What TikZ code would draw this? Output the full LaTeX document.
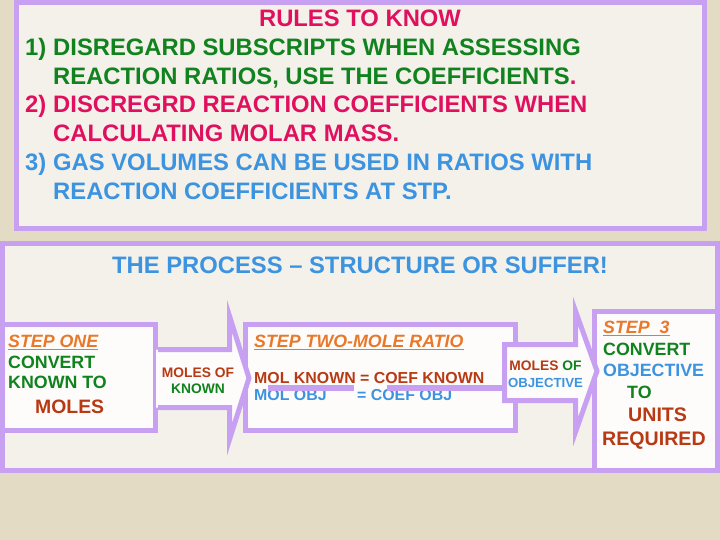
\documentclass[tikz,border=0pt]{standalone}
\usepackage{fontspec}
\setmainfont{Liberation Sans}
\definecolor{bgc}{HTML}{E4DBC5}
\definecolor{lav}{HTML}{C7A0F2}
\definecolor{panel}{HTML}{F4F1EB}
\definecolor{boxw}{HTML}{FDFCFA}
\definecolor{mag}{HTML}{E0105F}
\definecolor{grn}{HTML}{10821E}
\definecolor{blu}{HTML}{3C93E0}
\definecolor{brn}{HTML}{B83A14}
\definecolor{org}{HTML}{E8782A}
\tikzset{
  frame/.style={draw=lav, line width=5pt, fill=#1},
  arrowline/.style={draw=lav, line width=5pt, line join=miter},
  txt/.style={inner sep=0pt, anchor=base west},
  ctxt/.style={inner sep=0pt, anchor=base},
  rulefont/.style={font=\fontsize{23.8}{28}\selectfont\bfseries},
  stepfont/.style={font=\fontsize{17.8}{20}\selectfont\bfseries},
  steplbl/.style={font=\fontsize{17.8}{20}\selectfont\bfseries\itshape, text=org},
  smallfont/.style={font=\fontsize{13.8}{16}\selectfont\bfseries},
  eqfont/.style={font=\fontsize{15.9}{18}\selectfont\bfseries},
  ulin/.style={draw=org, line width=1.6pt}
}
\begin{document}
\begin{tikzpicture}[x=1pt,y=-1pt]
\useasboundingbox (0,0) rectangle (720,540);
\fill[bgc] (0,0) rectangle (720,540);
% top rules box
\path[frame=panel] (16.5,2.5) rectangle (704.5,228.5);
\node[ctxt, rulefont, text=mag] (r0) at (360,26.5) {RULES TO KNOW};
\node[txt, rulefont, text=grn] (r1n) at (25,55.5) {1)};
\node[txt, rulefont, text=grn] (r1a) at (53,55.5) {DISREGARD SUBSCRIPTS WHEN ASSESSING};
\node[txt, rulefont, text=grn] (r1b) at (53,84.5) {REACTION RATIOS, USE THE COEFFICIENTS\textcolor{mag}{.}};
\node[txt, rulefont, text=mag] (r2n) at (25,112.5) {2)};
\node[txt, rulefont, text=mag] (r2a) at (53,112.5) {DISCREGRD REACTION COEFFICIENTS WHEN};
\node[txt, rulefont, text=mag] (r2b) at (53,141.5) {CALCULATING MOLAR MASS.};
\node[txt, rulefont, text=blu] (r3n) at (25,170.5) {3)};
\node[txt, rulefont, text=blu] (r3a) at (53,170.5) {GAS VOLUMES CAN BE USED IN RATIOS WITH};
\node[txt, rulefont, text=blu] (r3b) at (53,199.5) {REACTION COEFFICIENTS AT STP.};
% process box
\path[frame=panel] (2.5,243.5) rectangle (717.5,470.5);
\node[ctxt, font=\fontsize{23.8}{28}\selectfont\bfseries, text=blu] (title) at (360,273) {THE PROCESS – STRUCTURE OR SUFFER!};
% step boxes
\path[frame=boxw] (2.5,324.5) rectangle (155.5,430.5);
\path[frame=boxw] (245.5,324.5) rectangle (515,430.5);
\path[frame=boxw] (594.5,311.5) rectangle (717.5,470.5);
% step one text
\node[txt, steplbl] (s1) at (8,347) {STEP ONE};
\draw[ulin] ([yshift=-2.5pt]s1.base west) -- ([yshift=-2.5pt]s1.base east);
\node[txt, stepfont, text=grn] (s1a) at (8,368) {CONVERT};
\node[txt, stepfont, text=grn] (s1b) at (8,388) {KNOWN TO};
\node[txt, font=\fontsize{19.4}{22}\selectfont\bfseries, text=brn] (s1c) at (35,413) {MOLES};
% step two text
\node[txt, steplbl] (s2) at (254,347) {STEP TWO-MOLE RATIO};
\draw[ulin] ([yshift=-2.5pt]s2.base west) -- ([yshift=-2.5pt]s2.base east);
\node[txt, eqfont, text=brn] (s2a) at (254,383) {MOL KNOWN = COEF KNOWN};
\node[txt, eqfont, text=blu] (s2b) at (254,400) {MOL OBJ};
\node[txt, eqfont, text=blu] (s2c) at (357,400) {= COEF OBJ};
\draw[draw=lav, line width=6pt] (268,388) -- (354,388);
\draw[draw=lav, line width=6pt] (387,388) -- (505,388);
% arrow 1
\fill[boxw] (156,349.5) -- (229.5,349.5) -- (229.5,316) -- (249,378) -- (229.5,439.5) -- (229.5,407.5) -- (156,407.5) -- cycle;
\draw[arrowline] (158,349.5) -- (229.5,349.5) -- (229.5,316) -- (249,378) -- (229.5,439.5) -- (229.5,407.5) -- (158,407.5);
\node[ctxt, smallfont, text=brn] (a1a) at (198,377) {MOLES OF};
\node[ctxt, smallfont, text=grn] (a1b) at (198,393.5) {KNOWN};
% arrow 2
\path[arrowline, fill=boxw] (504.5,344.5) -- (575.5,344.5) -- (575.5,311) -- (597,371) -- (575.5,432) -- (575.5,400.5) -- (504.5,400.5) -- cycle;
\node[ctxt, smallfont, text=brn] (a2a) at (545.5,370) {MOLES \textcolor{grn}{OF}};
\node[ctxt, font=\fontsize{13.2}{16}\selectfont\bfseries, text=blu] (a2b) at (545.5,387) {OBJECTIVE};
% step 3 text
\node[txt, steplbl] (s3) at (603,333) {STEP\ \ 3};
\draw[ulin] ([yshift=-2.5pt]s3.base west) -- ([yshift=-2.5pt]s3.base east);
\node[txt, stepfont, text=grn] (s3a) at (603,355) {CONVERT};
\node[txt, stepfont, text=blu] (s3b) at (603,376) {OBJECTIVE};
\node[txt, stepfont, text=grn] (s3c) at (627,398) {TO};
\node[txt, font=\fontsize{19.6}{22}\selectfont\bfseries, text=brn] (s3d) at (628,421) {UNITS};
\node[txt, font=\fontsize{19.6}{22}\selectfont\bfseries, text=brn] (s3e) at (602,445) {REQUIRED};
\end{tikzpicture}
\end{document}
